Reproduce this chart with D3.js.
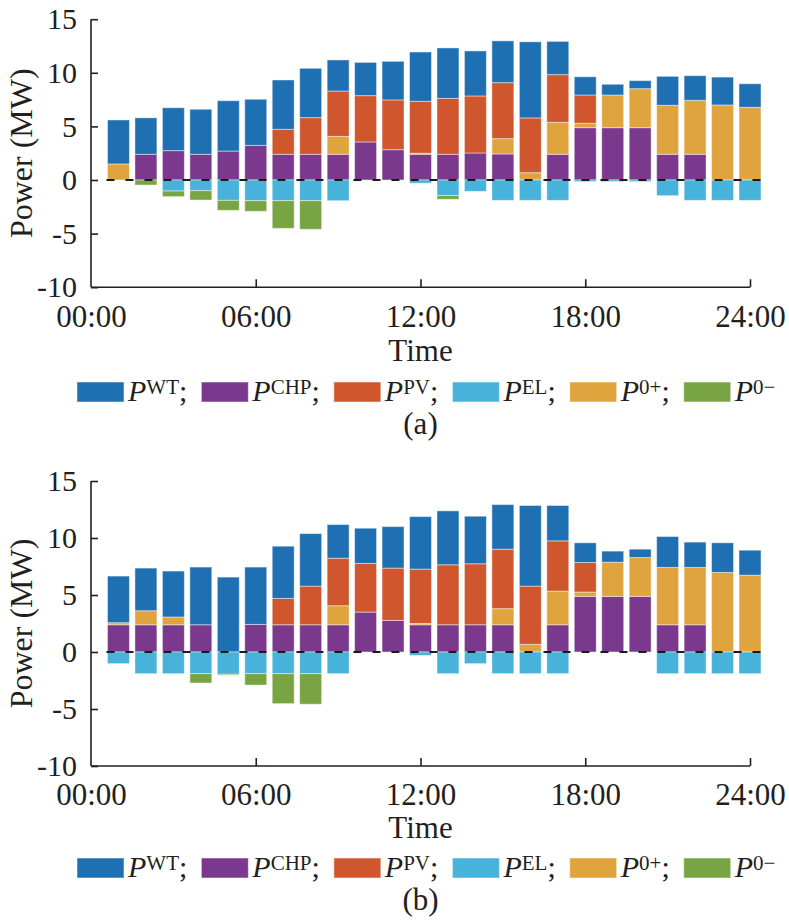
<!DOCTYPE html>
<html>
<head>
<meta charset="utf-8">
<script src="https://cdn.jsdelivr.net/npm/d3@7"></script>
<style>
  html, body { margin: 0; padding: 0; background: #fff; }
  svg { display: block; }
  text { font-family: "Liberation Serif", "Times New Roman", serif; fill: #231f20; }
</style>
</head>
<body>
<svg id="chart" width="789" height="922"></svg>
<script>
// ---------- data ----------
const hours = [1,2,3,4,5,6,7,8,9,10,11,12,13,14,15,16,17,18,19,20,21,22,23,24];
const xTickValues = [0, 6, 12, 18, 24];
const xTickLabels = ["00:00", "06:00", "12:00", "18:00", "24:00"];
const yTickValues = [-10, -5, 0, 5, 10, 15];
const seriesKeys = ["CHP", "P0p", "PV", "WT", "EL", "P0m"];
const legendOrder = ["WT", "CHP", "PV", "EL", "P0p", "P0m"];
const legendSup = { WT: "WT", CHP: "CHP", PV: "PV", EL: "EL", P0p: "0+", P0m: "0\u2212" };

// Panel (a)
const wtA  = [4.1,3.4,4.0,4.2,4.7,4.3,4.6,4.6,2.9,3.1,3.6,4.6,4.7,4.2,3.9,7.1,3.1,1.7,1.0,0.75,2.7,2.3,2.6,2.2];
const chpA = [0,2.4,2.74,2.4,2.7,3.23,2.4,2.4,2.4,3.55,2.83,2.4,2.4,2.52,2.43,0,2.4,4.88,4.88,4.88,2.4,2.4,0,0];
const pvA  = [0,0,0,0,0,0,2.33,3.42,4.23,4.32,4.64,4.84,5.22,5.32,5.22,5.11,4.45,2.64,0,0,0,0,0,0];
const p0pA = [1.5,0,0,0,0,0,0,0,1.67,0,0,0.1,0,0,1.43,0.68,2.98,0.41,3.05,3.64,4.57,5.03,7.0,6.78];
const elA  = [0,0,-1.03,-1.0,-1.9,-1.93,-1.93,-1.93,-1.93,0,0,-0.3,-1.46,-1.06,-1.9,-1.9,-1.9,-0.15,-0.15,-0.15,-1.46,-1.9,-1.9,-1.9];
const p0mA = [0,-0.47,-0.52,-0.87,-0.93,-0.99,-2.58,-2.67,0,0,0,0,-0.34,0,0,0,0,0,0,0,0,0,0,0];

// Panel (b)
const wtB  = [4.09,3.74,4.03,5.06,6.57,5.03,4.58,4.61,2.95,3.09,3.64,4.61,4.73,4.17,3.91,7.07,3.1,1.73,0.97,0.73,2.71,2.22,2.6,2.19];
const chpB = [2.39,2.39,2.39,2.39,0,2.42,2.39,2.39,2.39,3.5,2.77,2.39,2.39,2.39,2.39,0,2.39,4.88,4.88,4.88,2.39,2.39,0,0];
const pvB  = [0,0,0,0,0,0,2.31,3.39,4.17,4.27,4.59,4.77,5.26,5.35,5.22,5.11,4.41,2.59,0,0,0,0,0,0];
const p0pB = [0.18,1.23,0.68,0,0,0,0,0,1.67,0,0,0.11,0,0,1.41,0.67,2.95,0.38,3.0,3.41,5.03,5.03,6.98,6.74];
const elB  = [-1.02,-1.9,-1.9,-1.9,-1.96,-1.9,-1.9,-1.9,-1.9,0,0,-0.3,-1.9,-1.02,-1.9,-1.9,-1.9,0,0,0,-1.9,-1.9,-1.9,-1.9];
const p0mB = [0,0,0,-0.82,-0.08,-1.0,-2.63,-2.68,0,0,0,0,0,0,0,0,0,0,0,0,0,0,0,0];

// ---------- styles ----------
const colors = {
  WT: "#1f70b2", CHP: "#7a398c", PV: "#cf562d",
  EL: "#47b3db", P0p: "#e0a43f", P0m: "#78a443"
};

const svg = d3.select("#chart");

function buildRows(wt, chp, pv, p0p, el, p0m) {
  return hours.map((h, i) => ({
    hour: h, WT: wt[i], CHP: chp[i], PV: pv[i], P0p: p0p[i], EL: el[i], P0m: p0m[i]
  }));
}

function drawPanel(cfg) {
  const rows = buildRows(...cfg.series);
  const x = d3.scaleLinear().domain([0, 24]).range([91, 750]);
  const y = d3.scaleLinear().domain([-10, 15]).range([cfg.yBottom, cfg.yTop]);
  const bw = (x(1) - x(0)) * 0.8;

  const stack = d3.stack().keys(seriesKeys).offset(d3.stackOffsetDiverging);
  const layers = stack(rows);

  const g = svg.append("g");

  g.selectAll("g.layer").data(layers).join("g")
    .attr("class", "layer")
    .attr("fill", d => colors[d.key])
    .selectAll("rect").data(d => d.filter(s => Math.abs(s[1] - s[0]) > 1e-9)).join("rect")
    .attr("x", d => x(d.data.hour) - bw / 2)
    .attr("width", bw)
    .attr("y", d => y(Math.max(d[0], d[1])))
    .attr("height", d => Math.abs(y(d[0]) - y(d[1])))
    .attr("stroke", "rgba(255,255,255,0.45)")
    .attr("stroke-width", 1);

  // zero dashed line
  g.append("line")
    .attr("x1", x(hours[0]) - bw / 2 - 1).attr("x2", x(hours[hours.length - 1]) + bw / 2 + 1)
    .attr("y1", y(0)).attr("y2", y(0))
    .attr("stroke", "#1a1a1a").attr("stroke-width", 2)
    .attr("stroke-dasharray", "8,11");

  // axes
  const yAxis = d3.axisLeft(y).tickValues(yTickValues).tickSize(-7).tickPadding(14)
    .tickFormat(d => String(d));
  const ya = g.append("g").attr("transform", `translate(${x(0)},0)`).call(yAxis);
  ya.select(".domain").attr("stroke", "#231f20").attr("stroke-width", 1.6)
    .attr("d", `M0,${y(15)}V${y(-10)}`);
  ya.selectAll(".tick line").attr("stroke", "#231f20").attr("stroke-width", 1.6);
  ya.selectAll(".tick text").attr("font-size", 30).attr("fill", "#231f20")
    .attr("font-family", "Liberation Serif");

  const xAxis = d3.axisBottom(x).tickValues(xTickValues).tickSize(-8).tickPadding(16)
    .tickFormat((d, i) => xTickLabels[i]);
  const xa = g.append("g").attr("transform", `translate(0,${y(-10)})`).call(xAxis);
  xa.select(".domain").attr("stroke", "#231f20").attr("stroke-width", 1.6)
    .attr("d", `M${x(0)},0H${x(24)}`);
  xa.selectAll(".tick line").attr("stroke", "#231f20").attr("stroke-width", 1.6)
    .filter(d => d === 0).remove();
  xa.selectAll(".tick text").attr("font-size", 31).attr("fill", "#231f20")
    .attr("font-family", "Liberation Serif")
    .attr("dy", null).attr("transform", null)
    .attr("y", cfg.xLabelBase - y(-10));

  // axis titles
  const cx = (x(0) + x(24)) / 2;
  g.append("text").attr("x", cx).attr("y", cfg.timeBase)
    .attr("text-anchor", "middle").attr("font-size", 31).text("Time");
  g.append("text")
    .attr("transform", `translate(32,${(y(15) + y(-10)) / 2}) rotate(-90)`)
    .attr("text-anchor", "middle").attr("font-size", 32).text("Power (MW)");

  // legend
  const lg = g.append("g");
  let lx = 77;
  legendOrder.forEach((k, i) => {
    lg.append("rect").attr("x", lx).attr("y", cfg.legendBase - 19)
      .attr("width", 47).attr("height", 20).attr("fill", colors[k])
      .attr("stroke", "rgba(255,255,255,0.5)").attr("stroke-width", 1);
    const t = lg.append("text").attr("x", lx + 51).attr("y", cfg.legendBase).attr("font-size", 30);
    t.append("tspan").attr("font-style", "italic").text("P");
    t.append("tspan").attr("font-size", 21).attr("dy", -7).text(legendSup[k]);
    if (i < legendOrder.length - 1) t.append("tspan").attr("dy", 7).text(";");
    const w = t.node().getComputedTextLength();
    lx = lx + 51 + w + 14;
  });

  g.append("text").attr("x", cx).attr("y", cfg.capBase)
    .attr("text-anchor", "middle").attr("font-size", 31).text(cfg.caption);
}

drawPanel({
  series: [wtA, chpA, pvA, p0pA, elA, p0mA],
  yTop: 19.2, yBottom: 287.2,
  xLabelBase: 327, timeBase: 361, legendBase: 401, capBase: 434, caption: "(a)"
});
drawPanel({
  series: [wtB, chpB, pvB, p0pB, elB, p0mB],
  yTop: 481, yBottom: 766,
  xLabelBase: 805, timeBase: 838, legendBase: 877, capBase: 910, caption: "(b)"
});
</script>
</body>
</html>
